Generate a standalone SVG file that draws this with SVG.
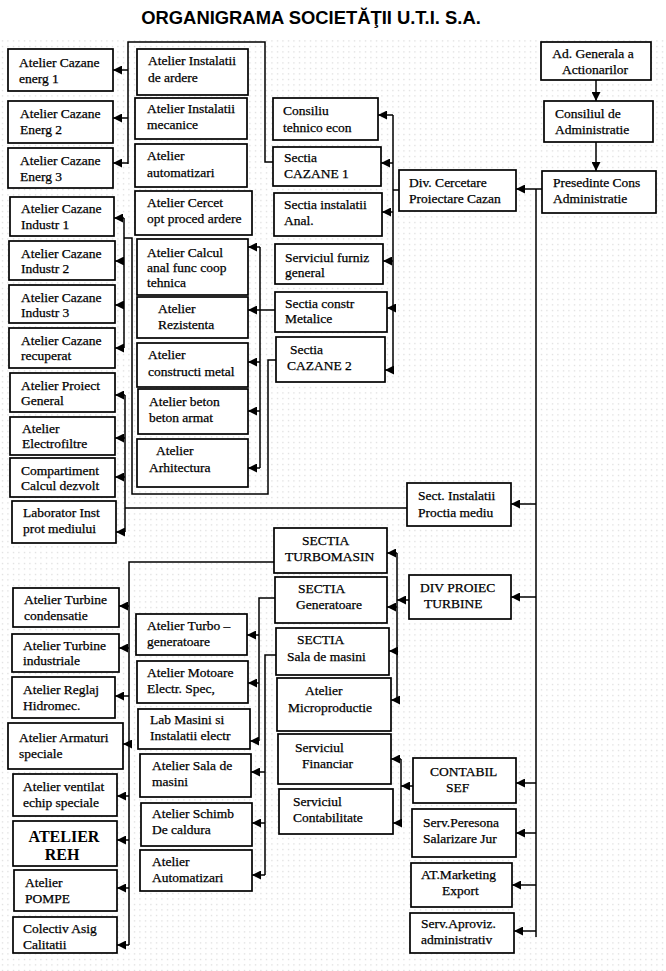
<svg xmlns="http://www.w3.org/2000/svg" width="666" height="971" viewBox="0 0 666 971">
<defs>
<pattern id="dots" x="0" y="0" width="5.5" height="5.5" patternUnits="userSpaceOnUse">
<rect x="2" y="2" width="1" height="1" fill="#c4c4c4"/>
</pattern>
<marker id="arr" viewBox="0 0 9 9" refX="9" refY="4.5" markerWidth="9" markerHeight="9" markerUnits="userSpaceOnUse" orient="auto">
<path d="M0,0 L9,4.5 L0,9 z" fill="#000"/>
</marker>
<style>
.box{fill:#fff;stroke:#000;stroke-width:1.7}
.t{font-size:13.5px;fill:#000;stroke:#000;stroke-width:0.25}
.tb{font-size:16px;font-weight:bold;fill:#000}
.ln{fill:none;stroke:#000;stroke-width:1.5}
.ar{fill:none;stroke:#000;stroke-width:1.5;marker-end:url(#arr)}
.title{font-size:18.4px;font-weight:bold;fill:#000}
</style>
</defs>
<rect x="0" y="0" width="666" height="971" fill="#fff"/>
<rect x="0" y="38" width="666" height="933" fill="url(#dots)"/>
<text class="title" font-family="'Liberation Sans', Arial, sans-serif" x="311" y="24" text-anchor="middle">ORGANIGRAMA SOCIETĂŢII U.T.I. S.A.</text>

<g id="connectors">
<line class="ar" x1="596" y1="80" x2="596" y2="101"/>
<line class="ar" x1="596" y1="142" x2="596" y2="171"/>
<line class="ar" x1="542" y1="189" x2="516" y2="189"/>
<line class="ln" x1="536" y1="189" x2="536" y2="937"/>
<line class="ar" x1="536" y1="504" x2="511" y2="504"/>
<line class="ar" x1="536" y1="597" x2="511" y2="597"/>
<line class="ar" x1="536" y1="783" x2="516" y2="783"/>
<line class="ar" x1="536" y1="833" x2="516" y2="833"/>
<line class="ar" x1="536" y1="885" x2="512" y2="885"/>
<line class="ar" x1="536" y1="931" x2="514" y2="931"/>
<line class="ln" x1="399" y1="190" x2="393" y2="190"/>
<line class="ln" x1="393" y1="115" x2="393" y2="370"/>
<line class="ar" x1="393" y1="115" x2="378" y2="115"/>
<line class="ar" x1="393" y1="163" x2="381" y2="163"/>
<line class="ar" x1="393" y1="212" x2="382" y2="212"/>
<line class="ar" x1="393" y1="261" x2="383" y2="261"/>
<line class="ar" x1="393" y1="308" x2="387" y2="308"/>
<line class="ar" x1="393" y1="370" x2="385" y2="370"/>
<path class="ln" d="M273,162 H265 V42 H128 V164"/>
<line class="ar" x1="128" y1="70" x2="113" y2="70"/>
<line class="ar" x1="128" y1="118" x2="113" y2="118"/>
<line class="ar" x1="128" y1="163" x2="113" y2="163"/>
<path class="ln" d="M276,360 H268 V494 H132 V238 H124"/>
<line class="ln" x1="124" y1="218" x2="124" y2="348"/>
<line class="ar" x1="124" y1="218" x2="114" y2="218"/>
<line class="ar" x1="124" y1="261" x2="115" y2="261"/>
<line class="ar" x1="124" y1="305" x2="115" y2="305"/>
<line class="ar" x1="124" y1="348" x2="115" y2="348"/>
<line class="ln" x1="407" y1="508" x2="125" y2="508"/>
<line class="ln" x1="125" y1="395" x2="125" y2="532"/>
<line class="ar" x1="125" y1="395" x2="115" y2="395"/>
<line class="ar" x1="125" y1="438" x2="115" y2="438"/>
<line class="ar" x1="125" y1="477" x2="115" y2="477"/>
<line class="ar" x1="125" y1="532" x2="116" y2="532"/>
<line class="ar" x1="275" y1="310" x2="248" y2="310"/>
<line class="ln" x1="260" y1="247" x2="260" y2="468"/>
<line class="ar" x1="260" y1="247" x2="248" y2="247"/>
<line class="ar" x1="260" y1="362" x2="248" y2="362"/>
<line class="ar" x1="260" y1="411" x2="248" y2="411"/>
<line class="ar" x1="260" y1="468" x2="248" y2="468"/>
<line class="ar" x1="409" y1="600" x2="397" y2="600"/>
<line class="ln" x1="397" y1="553" x2="397" y2="700"/>
<line class="ar" x1="397" y1="553" x2="387" y2="553"/>
<line class="ar" x1="397" y1="607" x2="387" y2="607"/>
<line class="ar" x1="397" y1="651" x2="389" y2="651"/>
<line class="ar" x1="397" y1="700" x2="391" y2="700"/>
<line class="ar" x1="413" y1="786" x2="401" y2="786"/>
<line class="ln" x1="401" y1="759" x2="401" y2="823"/>
<line class="ar" x1="401" y1="759" x2="391" y2="759"/>
<line class="ar" x1="401" y1="823" x2="393" y2="823"/>
<path class="ln" d="M274,562 H129 V945"/>
<line class="ar" x1="129" y1="606" x2="119" y2="606"/>
<line class="ar" x1="129" y1="648" x2="119" y2="648"/>
<line class="ar" x1="129" y1="696" x2="115" y2="696"/>
<line class="ar" x1="129" y1="744" x2="123" y2="744"/>
<line class="ar" x1="129" y1="796" x2="117" y2="796"/>
<line class="ar" x1="129" y1="840" x2="117" y2="840"/>
<line class="ar" x1="129" y1="888" x2="117" y2="888"/>
<line class="ar" x1="129" y1="945" x2="117" y2="945"/>
<path class="ln" d="M275,598 H259 V741"/>
<line class="ar" x1="259" y1="635" x2="247" y2="635"/>
<line class="ar" x1="259" y1="683" x2="248" y2="683"/>
<line class="ar" x1="259" y1="741" x2="250" y2="741"/>
<path class="ln" d="M276,655 H265 V875"/>
<line class="ar" x1="265" y1="772" x2="251" y2="772"/>
<line class="ar" x1="265" y1="823" x2="252" y2="823"/>
<line class="ar" x1="265" y1="875" x2="252" y2="875"/>
</g>

<g id="nodes" font-family="'Liberation Serif', 'Times New Roman', serif">
<g id="ad-generala"><rect class="box" x="541" y="42" width="110" height="38"/><text class="t" text-anchor="middle"><tspan x="593" y="58">Ad. Generala a</tspan><tspan x="595" y="74">Actionarilor</tspan></text></g>
<g id="consiliul-admin"><rect class="box" x="544" y="101" width="109" height="41"/><text class="t"><tspan x="555" y="118">Consiliul de</tspan><tspan x="555" y="134">Administratie</tspan></text></g>
<g id="presedinte"><rect class="box" x="542" y="171" width="114" height="42"/><text class="t"><tspan x="553" y="187">Presedinte Cons</tspan><tspan x="553" y="203">Administratie</tspan></text></g>
<g id="div-cercetare"><rect class="box" x="399" y="170" width="117" height="41"/><text class="t"><tspan x="409" y="187">Div. Cercetare</tspan><tspan x="409" y="203">Proiectare Cazan</tspan></text></g>

<g id="a1"><rect class="box" x="8" y="49" width="105" height="42"/><text class="t"><tspan x="19" y="67">Atelier Cazane</tspan><tspan x="19" y="83">energ  1</tspan></text></g>
<g id="a2"><rect class="box" x="8" y="101" width="105" height="42"/><text class="t"><tspan x="20" y="118">Atelier Cazane</tspan><tspan x="20" y="134">Energ 2</tspan></text></g>
<g id="a3"><rect class="box" x="8" y="148" width="105" height="40"/><text class="t"><tspan x="20" y="165">Atelier Cazane</tspan><tspan x="20" y="181">Energ 3</tspan></text></g>
<g id="a4"><rect class="box" x="10" y="197" width="104" height="39"/><text class="t"><tspan x="21" y="213">Atelier Cazane</tspan><tspan x="21" y="229">Industr 1</tspan></text></g>
<g id="a5"><rect class="box" x="9" y="241" width="106" height="39"/><text class="t"><tspan x="21" y="258">Atelier Cazane</tspan><tspan x="21" y="273">Industr 2</tspan></text></g>
<g id="a6"><rect class="box" x="9" y="285" width="106" height="38"/><text class="t"><tspan x="21" y="302">Atelier Cazane</tspan><tspan x="21" y="317">Industr 3</tspan></text></g>
<g id="a7"><rect class="box" x="9" y="328" width="106" height="40"/><text class="t"><tspan x="21" y="345">Atelier Cazane</tspan><tspan x="21" y="360">recuperat</tspan></text></g>
<g id="a8"><rect class="box" x="10" y="373" width="105" height="39"/><text class="t"><tspan x="21" y="390">Atelier Proiect</tspan><tspan x="21" y="405">General</tspan></text></g>
<g id="a9"><rect class="box" x="10" y="417" width="105" height="38"/><text class="t"><tspan x="22" y="433">Atelier</tspan><tspan x="22" y="448">Electrofiltre</tspan></text></g>
<g id="a10"><rect class="box" x="10" y="458" width="105" height="39"/><text class="t"><tspan x="21" y="475">Compartiment</tspan><tspan x="21" y="490">Calcul dezvolt</tspan></text></g>
<g id="a11"><rect class="box" x="12" y="501" width="104" height="42"/><text class="t"><tspan x="23" y="517">Laborator Inst</tspan><tspan x="23" y="533">prot  mediului</tspan></text></g>

<g id="b1"><rect class="box" x="137" y="49" width="111" height="46"/><text class="t"><tspan x="148" y="65">Atelier Instalatii</tspan><tspan x="148" y="82">de ardere</tspan></text></g>
<g id="b2"><rect class="box" x="135" y="98" width="112" height="41"/><text class="t"><tspan x="147" y="113">Atelier Instalatii</tspan><tspan x="147" y="129">mecanice</tspan></text></g>
<g id="b3"><rect class="box" x="135" y="144" width="112" height="43"/><text class="t"><tspan x="147" y="160">Atelier</tspan><tspan x="147" y="177">automatizari</tspan></text></g>
<g id="b4"><rect class="box" x="135" y="191" width="117" height="44"/><text class="t"><tspan x="147" y="207">Atelier Cercet</tspan><tspan x="147" y="223">opt proced ardere</tspan></text></g>
<g id="b5"><rect class="box" x="137" y="239" width="111" height="56"/><text class="t"><tspan x="147" y="257">Atelier Calcul</tspan><tspan x="147" y="272">anal func coop</tspan><tspan x="147" y="287">tehnica</tspan></text></g>
<g id="b6"><rect class="box" x="137" y="297" width="111" height="41"/><text class="t"><tspan x="158" y="313">Atelier</tspan><tspan x="158" y="329">Rezistenta</tspan></text></g>
<g id="b7"><rect class="box" x="137" y="343" width="111" height="44"/><text class="t"><tspan x="148" y="359">Atelier</tspan><tspan x="148" y="376">constructi metal</tspan></text></g>
<g id="b8"><rect class="box" x="138" y="389" width="110" height="45"/><text class="t"><tspan x="149" y="406">Atelier beton</tspan><tspan x="149" y="422">beton armat</tspan></text></g>
<g id="b9"><rect class="box" x="137" y="439" width="111" height="48"/><text class="t"><tspan x="156" y="455">Atelier</tspan><tspan x="149" y="472">Arhitectura</tspan></text></g>

<g id="c1"><rect class="box" x="273" y="98" width="105" height="42"/><text class="t"><tspan x="283" y="115">Consiliu</tspan><tspan x="283" y="132">tehnico econ</tspan></text></g>
<g id="c2"><rect class="box" x="273" y="147" width="108" height="39"/><text class="t"><tspan x="284" y="162">Sectia</tspan><tspan x="284" y="178">CAZANE 1</tspan></text></g>
<g id="c3"><rect class="box" x="274" y="193" width="108" height="43"/><text class="t"><tspan x="284" y="209">Sectia instalatii</tspan><tspan x="284" y="225">Anal.</tspan></text></g>
<g id="c4"><rect class="box" x="275" y="244" width="108" height="40"/><text class="t"><tspan x="285" y="262">Serviciul furniz</tspan><tspan x="285" y="277">general</tspan></text></g>
<g id="c5"><rect class="box" x="275" y="292" width="112" height="40"/><text class="t"><tspan x="285" y="308">Sectia constr</tspan><tspan x="285" y="323">Metalice</tspan></text></g>
<g id="c6"><rect class="box" x="276" y="337" width="109" height="45"/><text class="t"><tspan x="290" y="354">Sectia</tspan><tspan x="287" y="370">CAZANE 2</tspan></text></g>

<g id="sect-instalatii-mediu"><rect class="box" x="407" y="483" width="104" height="43"/><text class="t"><tspan x="418" y="500">Sect. Instalatii</tspan><tspan x="418" y="517">Proctia mediu</tspan></text></g>
<g id="div-proiec-turbine"><rect class="box" x="409" y="575" width="102" height="44"/><text class="t"><tspan x="420" y="592">DIV PROIEC</tspan><tspan x="424" y="608">TURBINE</tspan></text></g>

<g id="d1"><rect class="box" x="274" y="528" width="113" height="45"/><text class="t"><tspan x="302" y="545">SECTIA</tspan><tspan x="285" y="561">TURBOMASIN</tspan></text></g>
<g id="d2"><rect class="box" x="275" y="577" width="112" height="46"/><text class="t"><tspan x="298" y="593">SECTIA</tspan><tspan x="296" y="609">Generatoare</tspan></text></g>
<g id="d3"><rect class="box" x="276" y="628" width="113" height="47"/><text class="t"><tspan x="297" y="644">SECTIA</tspan><tspan x="287" y="661">Sala de masini</tspan></text></g>
<g id="d4"><rect class="box" x="277" y="678" width="114" height="53"/><text class="t"><tspan x="305" y="695">Atelier</tspan><tspan x="288" y="712">Microproductie</tspan></text></g>
<g id="d5"><rect class="box" x="278" y="734" width="113" height="50"/><text class="t"><tspan x="295" y="752">Serviciul</tspan><tspan x="302" y="768">Financiar</tspan></text></g>
<g id="d6"><rect class="box" x="279" y="789" width="114" height="45"/><text class="t"><tspan x="293" y="806">Serviciul</tspan><tspan x="293" y="822">Contabilitate</tspan></text></g>

<g id="contabil-sef"><rect class="box" x="413" y="758" width="103" height="45"/><text class="t"><tspan x="430" y="776">CONTABIL</tspan><tspan x="446" y="792">SEF</tspan></text></g>
<g id="serv-personal"><rect class="box" x="412" y="809" width="104" height="48"/><text class="t"><tspan x="423" y="827">Serv.Peresona</tspan><tspan x="423" y="843">Salarizare Jur</tspan></text></g>
<g id="at-marketing"><rect class="box" x="411" y="863" width="101" height="44"/><text class="t"><tspan x="421" y="879">AT.Marketing</tspan><tspan x="442" y="895">Export</tspan></text></g>
<g id="serv-aproviz"><rect class="box" x="410" y="913" width="104" height="40"/><text class="t"><tspan x="421" y="928">Serv.Aproviz.</tspan><tspan x="421" y="944">administrativ</tspan></text></g>

<g id="e1"><rect class="box" x="13" y="588" width="106" height="39"/><text class="t"><tspan x="24" y="604">Atelier Turbine</tspan><tspan x="24" y="620">condensatie</tspan></text></g>
<g id="e2"><rect class="box" x="12" y="634" width="107" height="38"/><text class="t"><tspan x="23" y="650">Atelier Turbine</tspan><tspan x="23" y="665">industriale</tspan></text></g>
<g id="e3"><rect class="box" x="12" y="677" width="103" height="41"/><text class="t"><tspan x="23" y="694">Atelier Reglaj</tspan><tspan x="23" y="710">Hidromec.</tspan></text></g>
<g id="e4"><rect class="box" x="8" y="723" width="115" height="46"/><text class="t"><tspan x="19" y="742">Atelier Armaturi</tspan><tspan x="19" y="758">speciale</tspan></text></g>
<g id="e5"><rect class="box" x="13" y="774" width="104" height="42"/><text class="t"><tspan x="23" y="791">Atelier ventilat</tspan><tspan x="23" y="807">echip speciale</tspan></text></g>
<g id="e6"><rect class="box" x="13" y="821" width="104" height="45"/><text class="tb" text-anchor="middle"><tspan x="64" y="842">ATELIER</tspan><tspan x="62" y="860">REH</tspan></text></g>
<g id="e7"><rect class="box" x="14" y="870" width="103" height="41"/><text class="t"><tspan x="25" y="887">Atelier</tspan><tspan x="25" y="903">POMPE</tspan></text></g>
<g id="e8"><rect class="box" x="13" y="917" width="104" height="36"/><text class="t"><tspan x="23" y="933">Colectiv Asig</tspan><tspan x="23" y="949">Calitatii</tspan></text></g>

<g id="f1"><rect class="box" x="136" y="614" width="111" height="41"/><text class="t"><tspan x="147" y="630">Atelier Turbo –</tspan><tspan x="147" y="646">generatoare</tspan></text></g>
<g id="f2"><rect class="box" x="137" y="661" width="111" height="42"/><text class="t"><tspan x="147" y="677">Atelier Motoare</tspan><tspan x="147" y="693">Electr. Spec,</tspan></text></g>
<g id="f3"><rect class="box" x="138" y="709" width="112" height="40"/><text class="t"><tspan x="150" y="724">Lab Masini si</tspan><tspan x="150" y="740">Instalatii electr</tspan></text></g>
<g id="f4"><rect class="box" x="140" y="754" width="111" height="43"/><text class="t"><tspan x="152" y="770">Atelier Sala de</tspan><tspan x="152" y="786">masini</tspan></text></g>
<g id="f5"><rect class="box" x="141" y="803" width="111" height="43"/><text class="t"><tspan x="152" y="818">Atelier Schimb</tspan><tspan x="152" y="834">De caldura</tspan></text></g>
<g id="f6"><rect class="box" x="140" y="850" width="112" height="41"/><text class="t"><tspan x="152" y="866">Atelier</tspan><tspan x="152" y="882">Automatizari</tspan></text></g>
</g>
</svg>
